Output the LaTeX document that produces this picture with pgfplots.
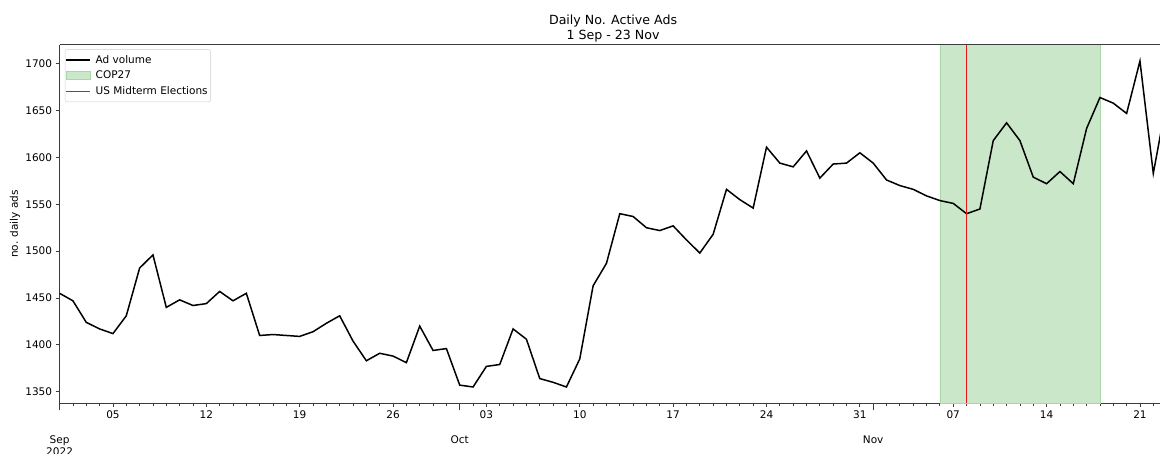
\documentclass[border=0pt]{standalone}
\usepackage{pgfplots}
\pgfplotsset{compat=1.18}
\usepackage{fontspec}
\setmainfont{DejaVu Sans}

\definecolor{copgreen}{RGB}{202,231,202}
\definecolor{copedge}{RGB}{170,215,170}
\definecolor{spinegray}{RGB}{60,60,60}
\definecolor{midred}{RGB}{230,20,20}

% daily active ads, day 0 = 1 Sep 2022
\pgfplotstableread{
day ads
0 1455
1 1447
2 1424
3 1417
4 1412
5 1431
6 1482
7 1496
8 1440
9 1448
10 1442
11 1444
12 1457
13 1447
14 1455
15 1410
16 1411
17 1410
18 1409
19 1414
20 1423
21 1431
22 1404
23 1383
24 1391
25 1388
26 1381
27 1420
28 1394
29 1396
30 1357
31 1355
32 1377
33 1379
34 1417
35 1406
36 1364
37 1360
38 1355
39 1385
40 1463
41 1487
42 1540
43 1537
44 1525
45 1522
46 1527
47 1512
48 1498
49 1518
50 1566
51 1555
52 1546
53 1611
54 1594
55 1590
56 1607
57 1578
58 1593
59 1594
60 1605
61 1594
62 1576
63 1570
64 1566
65 1559
66 1554
67 1551
68 1540
69 1545
70 1618
71 1637
72 1618
73 1579
74 1572
75 1585
76 1572
77 1631
78 1664
79 1658
80 1647
81 1703
82 1583
83 1660
}\adsdata

\begin{document}
\begin{tikzpicture}
\begin{axis}[
    scale only axis,
    width=1100.4pt, height=358.6pt,
    xmin=0, xmax=82.5,
    ymin=1337.6, ymax=1720.4,
    axis lines*=left,
    axis line style={spinegray, line width=0.8pt},
    every tick/.style={spinegray, line width=0.8pt},
    tick align=outside,
    major tick length=4pt,
    minor tick length=3pt,
    xtick={4,11,18,25,32,39,46,53,60,67,74,81},
    xticklabels={05,12,19,26,03,10,17,24,31,07,14,21},
    minor xtick={0,...,83},
    extra x ticks={0,30,61},
    extra x tick labels={Sep\\2022,Oct,Nov},
    extra x tick style={
        major tick length=7pt,
        tick label style={yshift=-22pt, align=center}},
    ytick={1350,1400,1450,1500,1550,1600,1650,1700},
    yticklabels={1350,1400,1450,1500,1550,1600,1650,1700},
    tick label style={font=\fontsize{10.5}{12}\selectfont},
    ylabel={no. daily ads},
    ylabel style={at={(axis description cs:-0.0405,0.5)}, anchor=center,
        font=\fontsize{10.5}{12}\selectfont},
    title={Daily No. Active Ads\\1 Sep - 23 Nov},
    title style={at={(rel axis cs:0.503,1)}, anchor=south, yshift=-6.5pt,
        align=center, font=\fontsize{12.6}{14.8}\selectfont},
    legend cell align=left,
    legend style={at={(rel axis cs:0.0049,0.987)}, anchor=north west,
        draw={rgb,255:red,204;green,204;blue,204}, rounded corners=2pt,
        fill=white, font=\fontsize{10.5}{12}\selectfont,
        inner xsep=1pt, inner ysep=3.5pt, row sep=2.5pt},
    after end axis/.code={
        \draw[spinegray, line width=0.8pt] (rel axis cs:0,1) -- (rel axis cs:1,1);
    },
]
% legend entries in the reference order; samples are filled bars with draw=none,
% since the legend box's draw colour is inherited by strokes inside it
\addlegendimage{legend image code/.code={
    \path[fill=black, draw=none, sharp corners] (0pt,-0.75pt) rectangle (24pt,0.75pt);}}
\addlegendentry{\hspace{3pt}Ad volume}
\addlegendimage{legend image code/.code={
    \filldraw[fill=copgreen, draw=copedge, line width=0.5pt, sharp corners] (0pt,-4pt) rectangle (24pt,4pt);}}
\addlegendentry{\hspace{3pt}COP27}
\addlegendimage{legend image code/.code={
    \path[fill=midred, draw=none, sharp corners] (0pt,-0.6pt) rectangle (24pt,0.6pt);}}
\addlegendentry{\hspace{3pt}US Midterm Elections\hspace{6pt}}

% COP27: 6 Nov - 18 Nov
\addplot[fill=copgreen, draw=copedge, line width=0.5pt, forget plot]
    coordinates {(66,1337.6) (66,1720.4) (78,1720.4) (78,1337.6)} \closedcycle;
\addplot[black, line width=1.5pt, forget plot] table[x=day, y=ads] {\adsdata};
% midterm elections: 8 Nov
\addplot[midred, line width=1.1pt, forget plot]
    coordinates {(68,1337.6) (68,1720.4)};
\end{axis}
\pgfresetboundingbox
\useasboundingbox (-59.6pt,-50.7pt) rectangle (1100.4pt,403.3pt);
\end{tikzpicture}
\end{document}
